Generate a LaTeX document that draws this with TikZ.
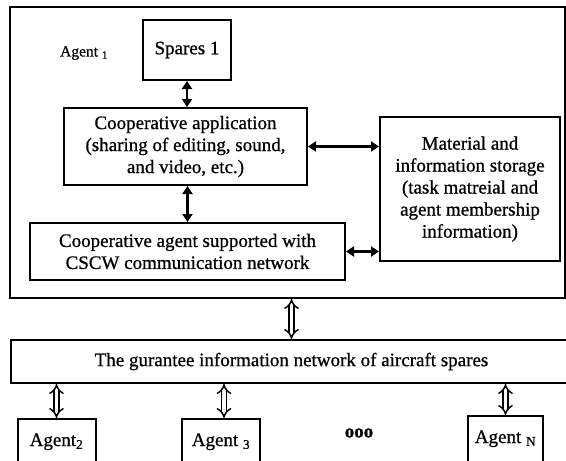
\documentclass[tikz,border=0pt]{standalone}
\usepackage{fontspec}
\setmainfont{Liberation Serif}[FakeBold=0.8]
\usepackage{tikz}
\usetikzlibrary{positioning,arrows.meta,calc}

\begin{document}
\begin{tikzpicture}[x=1pt, y=-1pt, font=\fontsize{19}{22}\selectfont,
  box/.style={draw, line width=2pt, rectangle, inner sep=0pt, align=center},
  agentbox/.style={box, anchor=north, minimum width=78, text height=27, text depth=40},
  link/.style={line width=2.2pt, {Triangle[length=8pt,width=10pt]}-{Triangle[length=8pt,width=10pt]}},
  hollow/.style={double, double distance=3.5pt, line width=1.5pt, {Implies[length=6pt,width=13pt]}-{Implies[length=6pt,width=13pt]}}]
\clip (0,0) rectangle (566,461);
\node[box, minimum width=555, minimum height=291] (A1) at (287.5,152.5) {};
\node[font=\fontsize{15.5}{18}\selectfont] (A1l) at (84,53) {Agent \textsubscript{1}};
\node[box, minimum width=88, minimum height=60] (SP) at (187,50) {Spares 1};
\node[box, minimum width=243, minimum height=77] (CA) at (185.5,146.5) {Cooperative application\\(sharing of editing, sound,\\and video, etc.)};
\node[box, minimum width=315, minimum height=57] (CG) at (187.5,251.5) {Cooperative agent supported with\\CSCW communication network};
\node[box, minimum width=180, minimum height=144] (MS) at (470,189) {Material and\\information storage\\(task matreial and\\agent membership\\information)};
\node[box, minimum width=561, minimum height=43] (NW) at (291.5,361.5) {The gurantee information network of aircraft spares};
\node[agentbox] (A2) at (56.5,418) {Agent\textsubscript{2}};
\node[agentbox] (A3) at (221,418) {Agent \textsubscript{3}};
\node[agentbox, minimum width=75] (AN) at (505.5,415) {Agent \textsubscript{N}};
\node (dots) at (359,433) {\textbf{ooo}};
% links inside agent 1
\draw[link] (SP.south) -- (SP.south |- CA.north);
\draw[link] (CG.north |- CA.south) -- (CG.north);
\draw[link] (CA.east) -- (CA.east -| MS.west);
\draw[link] (CG.east) -- (CG.east -| MS.west);
% network links
\draw[hollow] (NW.north |- A1.south) -- (NW.north);
\draw[hollow] (A2.north |- NW.south) -- (A2.north);
\draw[hollow] ([xshift=3]A3.north |- NW.south) -- ([xshift=3]A3.north);
\draw[hollow] (AN.north |- NW.south) -- (AN.north);
\end{tikzpicture}
\end{document}
